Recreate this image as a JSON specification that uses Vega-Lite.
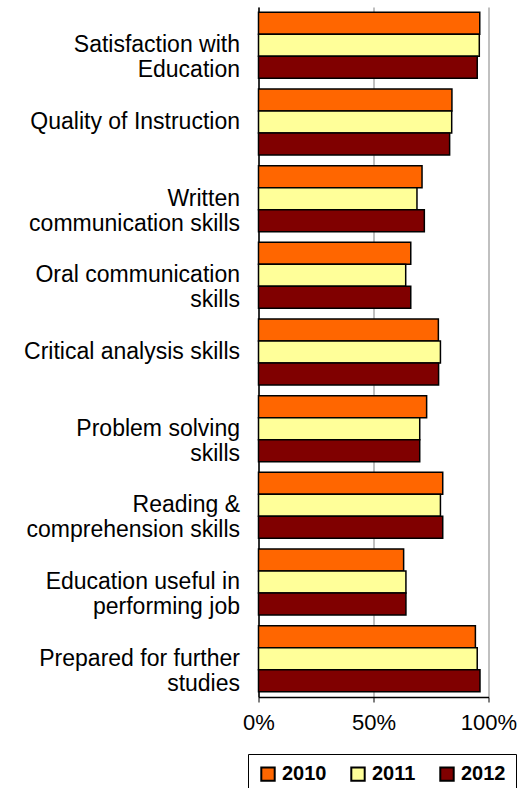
{
  "$schema": "https://vega.github.io/schema/vega-lite/v6.json",
  "width": 230,
  "height": 690,
  "autosize": {"type": "none"},
  "padding": {"left": 258.5, "top": 7, "right": 43.5, "bottom": 91},
  "background": "white",
  "config": {"view": {"stroke": null}, "font": "Liberation Sans"},
  "data": {
    "values": [
      {"category": "Satisfaction with|Education", "year": "2010", "value": 0.962},
      {"category": "Satisfaction with|Education", "year": "2011", "value": 0.96},
      {"category": "Satisfaction with|Education", "year": "2012", "value": 0.951},
      {"category": "Quality of Instruction", "year": "2010", "value": 0.841},
      {"category": "Quality of Instruction", "year": "2011", "value": 0.84},
      {"category": "Quality of Instruction", "year": "2012", "value": 0.831},
      {"category": "Written|communication skills", "year": "2010", "value": 0.711},
      {"category": "Written|communication skills", "year": "2011", "value": 0.689},
      {"category": "Written|communication skills", "year": "2012", "value": 0.721},
      {"category": "Oral communication|skills", "year": "2010", "value": 0.662},
      {"category": "Oral communication|skills", "year": "2011", "value": 0.64},
      {"category": "Oral communication|skills", "year": "2012", "value": 0.662},
      {"category": "Critical analysis skills", "year": "2010", "value": 0.782},
      {"category": "Critical analysis skills", "year": "2011", "value": 0.791},
      {"category": "Critical analysis skills", "year": "2012", "value": 0.783},
      {"category": "Problem solving|skills", "year": "2010", "value": 0.731},
      {"category": "Problem solving|skills", "year": "2011", "value": 0.701},
      {"category": "Problem solving|skills", "year": "2012", "value": 0.701},
      {"category": "Reading &|comprehension skills", "year": "2010", "value": 0.801},
      {"category": "Reading &|comprehension skills", "year": "2011", "value": 0.791},
      {"category": "Reading &|comprehension skills", "year": "2012", "value": 0.801},
      {"category": "Education useful in|performing job", "year": "2010", "value": 0.631},
      {"category": "Education useful in|performing job", "year": "2011", "value": 0.641},
      {"category": "Education useful in|performing job", "year": "2012", "value": 0.641},
      {"category": "Prepared for further|studies", "year": "2010", "value": 0.943},
      {"category": "Prepared for further|studies", "year": "2011", "value": 0.951},
      {"category": "Prepared for further|studies", "year": "2012", "value": 0.963}
    ]
  },
  "mark": {"type": "bar", "stroke": "black", "strokeWidth": 1.5},
  "encoding": {
    "y": {
      "field": "category",
      "type": "nominal",
      "sort": null,
      "scale": {"paddingInner": 0.14, "paddingOuter": 0.07},
      "axis": {
        "title": null,
        "labelExpr": "split(datum.label, '|')",
        "labelFontSize": 23,
        "labelLineHeight": 25,
        "labelColor": "black",
        "labelPadding": 19,
        "labelLimit": 300,
        "ticks": false,
        "domainColor": "black",
        "domainWidth": 1.5
      }
    },
    "yOffset": {
      "field": "year",
      "type": "nominal",
      "scale": {"paddingInner": 0, "paddingOuter": 0}
    },
    "x": {
      "field": "value",
      "type": "quantitative",
      "scale": {"domain": [0, 1]},
      "axis": {
        "title": null,
        "values": [0, 0.5, 1],
        "format": ".0%",
        "labelFontSize": 22,
        "labelColor": "black",
        "labelFlush": false,
        "labelPadding": 10,
        "tickColor": "black",
        "tickSize": 5,
        "domainColor": "black",
        "domainWidth": 1.5,
        "gridColor": "#c0c0c0",
        "gridWidth": 2
      }
    },
    "fill": {
      "field": "year",
      "type": "nominal",
      "scale": {"domain": ["2010", "2011", "2012"], "range": ["#FF6600", "#FFFF99", "#800000"]},
      "legend": {
        "title": null,
        "orient": "none",
        "legendX": -10.5,
        "legendY": 747,
        "direction": "horizontal",
        "strokeColor": "black",
        "padding": 10,
        "symbolType": "square",
        "symbolSize": 180,
        "symbolStrokeColor": "black",
        "symbolStrokeWidth": 2,
        "labelFontSize": 20,
        "labelFontWeight": "bold",
        "labelColor": "black",
        "labelOffset": 4,
        "columnPadding": 20
      }
    }
  }
}
